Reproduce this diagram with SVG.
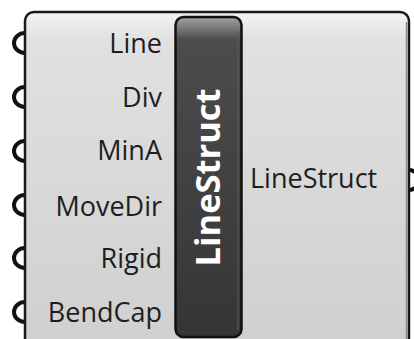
<svg xmlns="http://www.w3.org/2000/svg" width="414" height="339" viewBox="0 0 414 339">
<defs>
<linearGradient id="body" x1="0" y1="12" x2="0" y2="352" gradientUnits="userSpaceOnUse">
<stop offset="0" stop-color="#f2f2f2"/>
<stop offset="0.06" stop-color="#e6e6e6"/>
<stop offset="0.08" stop-color="#e1e1e1"/>
<stop offset="1" stop-color="#cfcfcf"/>
</linearGradient>
<linearGradient id="panel" x1="0" y1="17" x2="0" y2="340" gradientUnits="userSpaceOnUse">
<stop offset="0" stop-color="#a0a0a0"/>
<stop offset="0.02" stop-color="#8a8a8a"/>
<stop offset="0.07" stop-color="#4c4c4c"/>
<stop offset="1" stop-color="#353535"/>
</linearGradient>
</defs>
<style>
.lbl{font-family:"Open Sans","Noto Sans","DejaVu Sans",sans-serif;font-size:27px;fill:#1e1e1e}
.in{text-anchor:end}
.grip{fill:none;stroke:#111;stroke-width:4}
.title{font-family:"Open Sans","Noto Sans","DejaVu Sans",sans-serif;font-weight:bold;font-size:34.5px;fill:#ffffff;text-anchor:middle}
</style>
<g id="connectors">
<path class="grip" d="M25,33 A11,10 0 0 0 25,53"/>
<path class="grip" d="M25,87 A11,10 0 0 0 25,107"/>
<path class="grip" d="M25,141 A11,10 0 0 0 25,161"/>
<path class="grip" d="M25,195 A11,10 0 0 0 25,215"/>
<path class="grip" d="M25,248 A11,10 0 0 0 25,268"/>
<path class="grip" d="M25,302 A11,10 0 0 0 25,322"/>
<path class="grip" d="M409,170 A10,10 0 0 1 409,190"/>
</g>
<g id="component">
<rect x="25" y="12" width="384" height="350" rx="9" fill="url(#body)" stroke="#1a1a1a" stroke-width="2.5"/>
<line x1="406.5" y1="22" x2="406.5" y2="339" stroke="#8a8a8a" stroke-width="1.5"/>
</g>
<g id="panel">
<rect x="175.5" y="17" width="66" height="320" rx="8" fill="url(#panel)" stroke="#111" stroke-width="2.5"/>
<line x1="238" y1="30" x2="238" y2="330" stroke="#5a5a5a" stroke-width="1"/>
<text class="title" transform="translate(220,177.5) rotate(-90)">LineStruct</text>
</g>
<g id="inputs">
<text class="lbl in" x="162" y="53">Line</text>
<text class="lbl in" x="162" y="107">Div</text>
<text class="lbl in" x="162" y="160">MinA</text>
<text class="lbl in" x="162" y="216">MoveDir</text>
<text class="lbl in" x="162" y="268">Rigid</text>
<text class="lbl in" x="162" y="322">BendCap</text>
</g>
<g id="outputs">
<text class="lbl" x="250" y="188">LineStruct</text>
</g>
</svg>
